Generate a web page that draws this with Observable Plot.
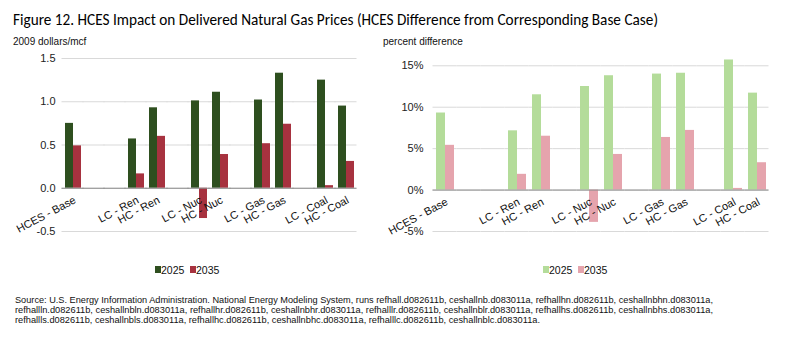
<!DOCTYPE html>
<html><head><meta charset="utf-8">
<script src="https://cdn.jsdelivr.net/npm/d3@7"></script>
<script src="https://cdn.jsdelivr.net/npm/@observablehq/plot@0.6"></script>
<style>
body{margin:0;background:#fff;}
#wrap{position:relative;width:787px;height:338px;overflow:hidden;font-family:"Liberation Sans",Arial,sans-serif;background:#fff;}
.abs{position:absolute;}
</style></head><body><div id="wrap"></div>
<script>
const categories = ["HCES - Base"," ","  ","LC - Ren","HC - Ren","   ","LC - Nuc","HC - Nuc","    ","LC - Gas","HC - Gas","     ","LC - Coal","HC - Coal"];
const years = ["2025","2035"];
const dollars2025 = [0.75,null,null,0.57,0.93,null,1.01,1.11,null,1.02,1.33,null,1.25,0.95];
const dollars2035 = [0.49,null,null,0.166,0.60,null,-0.35,0.39,null,0.515,0.74,null,0.03,0.31];
const pct2025 = [9.3,null,null,7.15,11.5,null,12.5,13.8,null,14.0,14.1,null,15.7,11.7];
const pct2035 = [5.4,null,null,1.9,6.5,null,-3.9,4.3,null,6.35,7.2,null,0.2,3.3];
const dollarTicks = [-0.5,0,0.5,1.0,1.5];
const pctTicks = [-5,0,5,10,15];
const leftColors = ["#2e4f1f","#a7323f"];
const rightColors = ["#b4dc9a","#e5a4ad"];
const titleText = "Figure 12.  HCES Impact on Delivered Natural Gas Prices (HCES Difference from Corresponding Base Case)";
const sourceLines = [
 "Source:  U.S. Energy Information Administration.  National Energy Modeling System, runs refhall.d082611b, ceshallnb.d083011a, refhallhn.d082611b, ceshallnbhn.d083011a,",
 "refhallln.d082611b, ceshallnbln.d083011a, refhallhr.d082611b, ceshallnbhr.d083011a, refhalllr.d082611b, ceshallnblr.d083011a, refhallhs.d082611b, ceshallnbhs.d083011a,",
 "refhallls.d082611b, ceshallnbls.d083011a, refhallhc.d082611b, ceshallnbhc.d083011a, refhalllc.d082611b, ceshallnblc.d083011a."
];

function rowsFrom(v25, v35){
  const rows = [];
  categories.forEach((c,i)=>{
    if (v25[i] != null) rows.push({cat:c, year:"2025", value:v25[i]});
    if (v35[i] != null) rows.push({cat:c, year:"2035", value:v35[i]});
  });
  return rows;
}
const labelRows = categories.map(c => ({cat:c}));

function chart(v25, v35, o){
  return Plot.plot({
    width: o.width, height: 200,
    marginLeft: o.ml, marginRight: o.mr, marginTop: o.mt, marginBottom: 19,
    style: {fontFamily: '"Liberation Sans", Arial, sans-serif', fontSize: "11px", color: "#222", background: "transparent", overflow: "visible"},
    fx: {domain: categories, paddingInner: o.pi, paddingOuter: o.po, axis: null, label: null},
    x: {domain: years, padding: 0, axis: null},
    y: {domain: o.domain, ticks: 5, tickSize: 0, tickPadding: o.tp, tickFormat: o.fmt, label: null},
    color: {domain: years, range: o.colors},
    marks: [
      Plot.ruleY(o.ticks, {stroke: "#d9d9d9", strokeWidth: 1, insetLeft: -2.5, insetRight: -2.5}),
      Plot.barY(rowsFrom(v25, v35), {fx: "cat", x: "year", y: "value", fill: "year"}),
      Plot.ruleY([0], {stroke: "#8c8c8c", strokeWidth: 1, insetLeft: -2.5, insetRight: -2.5}),
      Plot.text(labelRows, {fx: "cat", y: () => 0, text: "cat", rotate: -28, textAnchor: "end", dy: 11, dx: 2, fontSize: 11, fill: "#111"})
    ]
  });
}

const wrap = document.getElementById("wrap");
const left = chart(dollars2025, dollars2035, {width: 380, ml: 58, mr: 20, mt: 8, pi: 0.17, po: 0.085, tp: 9,
  domain: [-0.5, 1.5], ticks: dollarTicks, fmt: d => d.toFixed(1), colors: leftColors});
left.classList.add("abs"); left.style.left = "0px"; left.style.top = "50px";
wrap.appendChild(left);
const right = chart(pct2025, pct2035, {width: 407, ml: 48, mr: 14, mt: 7, pi: 0.19, po: 0.06, tp: 12,
  domain: [-5, 16], ticks: pctTicks, fmt: d => d + "%", colors: rightColors});
right.classList.add("abs"); right.style.left = "380px"; right.style.top = "50px";
wrap.appendChild(right);

// overlay texts
const ns = "http://www.w3.org/2000/svg";
const ov = document.createElementNS(ns, "svg");
ov.setAttribute("width", 787); ov.setAttribute("height", 338);
ov.setAttribute("class", "abs"); ov.style.left = "0px"; ov.style.top = "0px"; ov.style.pointerEvents = "none";
function txt(s, x, y, size, fam, len, fill){
  const t = document.createElementNS(ns, "text");
  t.setAttribute("x", x); t.setAttribute("y", y); t.setAttribute("font-size", size);
  t.setAttribute("font-family", fam); t.setAttribute("fill", fill || "#000");
  if (len) { t.setAttribute("textLength", len); t.setAttribute("lengthAdjust", "spacingAndGlyphs"); }
  t.textContent = s; ov.appendChild(t); return t;
}
function rect(x, y, w, h, fill){
  const r = document.createElementNS(ns, "rect");
  r.setAttribute("x", x); r.setAttribute("y", y); r.setAttribute("width", w); r.setAttribute("height", h); r.setAttribute("fill", fill);
  ov.appendChild(r);
}
const sans = '"Liberation Sans", Arial, sans-serif';
txt(titleText, 13, 25, 15.5, 'Carlito, Calibri, Lato, sans-serif', 645, "#000");
txt("2009 dollars/mcf", 13, 45, 10, sans, null, "#111");
txt("percent difference", 383, 45, 10, sans, null, "#111");
// legends
function legend(x0, colors){
  rect(x0, 266, 6, 7, colors[0]);
  txt(years[0], x0 + 6, 274, 10.5, sans, null, "#111");
  rect(x0 + 35, 266, 6, 7, colors[1]);
  txt(years[1], x0 + 41, 274, 10.5, sans, null, "#111");
}
legend(155, leftColors);
legend(543, rightColors);
const lens = [698, 698, 525];
sourceLines.forEach((s, i) => txt(s, 15, 303 + i * 10, 9, sans, lens[i], "#111"));
wrap.appendChild(ov);
</script></body></html>
